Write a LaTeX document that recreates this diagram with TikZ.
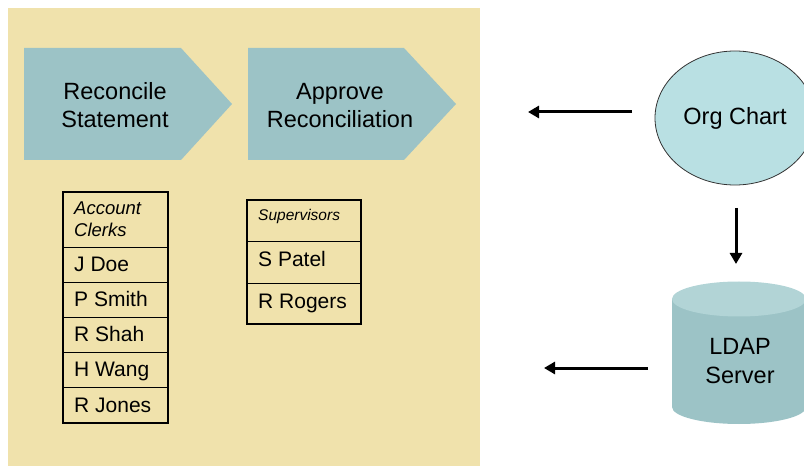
\documentclass[tikz,border=0pt]{standalone}
\usepackage{fontspec}
\setmainfont{Liberation Sans}
\usetikzlibrary{arrows.meta}
\definecolor{panelbg}{HTML}{F0E2AC}
\definecolor{stepfill}{HTML}{9CC3C6}
\definecolor{orgfill}{HTML}{B9E0E3}
\definecolor{cyltop}{HTML}{B2D4D6}
\definecolor{cylbody}{HTML}{9CC3C6}
\tikzset{
  bigtxt/.style={anchor=base, inner sep=0pt, font=\fontsize{23.5bp}{28bp}\selectfont},
  celltxt/.style={anchor=base west, inner sep=0pt, font=\fontsize{21bp}{25bp}\selectfont},
  headtxt/.style={anchor=base west, inner sep=0pt, font=\fontsize{18.5bp}{22bp}\selectfont\itshape},
  smallhead/.style={anchor=base west, inner sep=0pt, font=\fontsize{15.5bp}{19bp}\selectfont\itshape},
  innerline/.style={line width=0.9bp, draw=black},
  outerline/.style={line width=2.4bp, draw=black},
  flow/.style={line width=3bp, -{Triangle[length=11bp,width=12bp]}},
}
\begin{document}
\begin{tikzpicture}[x=1bp,y=-1bp]
\useasboundingbox (0,0) rectangle (804,466);
\clip (0,0) rectangle (804,466);

% process panel
\fill[panelbg] (8,8) rectangle (480,466);

% process steps (chevrons)
\fill[stepfill] (24,48) -- (181,48) -- (232,104) -- (181,160) -- (24,160) -- cycle;
\fill[stepfill] (248,48) -- (404,48) -- (456,104) -- (404,160) -- (248,160) -- cycle;
\node[bigtxt] (rec1) at (115,100) {Reconcile};
\node[bigtxt] (rec2) at (115,128) {Statement};
\node[bigtxt] (app1) at (340,100) {Approve};
\node[bigtxt] (app2) at (340,128) {Reconciliation};

% account clerks table
\foreach \y in {247,282,317,352,387} \draw[innerline] (63,\y) -- (168,\y);
\draw[outerline] (63,192) rectangle (168,423);
\node[headtxt] (clk1) at (74,215) {Account};
\node[headtxt] (clk2) at (74,237) {Clerks};
\node[celltxt] (n1) at (74,272) {J Doe};
\node[celltxt] (n2) at (74,307) {P Smith};
\node[celltxt] (n3) at (74,342) {R Shah};
\node[celltxt] (n4) at (74,377) {H Wang};
\node[celltxt] (n5) at (74,412) {R Jones};

% supervisors table
\foreach \y in {241,283} \draw[innerline] (247,\y) -- (361,\y);
\draw[outerline] (247,200) rectangle (361,324);
\node[smallhead] (sup) at (258,221) {Supervisors};
\node[celltxt] (s1) at (258,267) {S Patel};
\node[celltxt] (s2) at (258,309) {R Rogers};

% org chart source
\draw[fill=orgfill, draw=black!80, line width=0.8bp] (735,118) ellipse [x radius=80, y radius=67];
\node[bigtxt] (org) at (735,125) {Org Chart};

% LDAP server cylinder (y axis points down, so the lower arc runs 180 -> 0)
\fill[cylbody] (672,299) -- (672,407) arc[start angle=180, end angle=0, x radius=67, y radius=17] -- (806,299) -- cycle;
\fill[cyltop] (739,299) ellipse [x radius=67, y radius=17.5];
\node[bigtxt] (ldap1) at (740,355) {LDAP};
\node[bigtxt] (ldap2) at (740,384) {Server};

% data flows
\coordinate (orgout) at (632,112);
\coordinate (orgin) at (528,112);
\coordinate (orgdown) at (736,208);
\coordinate (ldapin) at (736,264);
\coordinate (ldapout) at (648,368);
\coordinate (ldapend) at (544,368);
\draw[flow] (orgout) -- (orgin);
\draw[flow] (orgdown) -- (ldapin);
\draw[flow] (ldapout) -- (ldapend);
\end{tikzpicture}
\end{document}
